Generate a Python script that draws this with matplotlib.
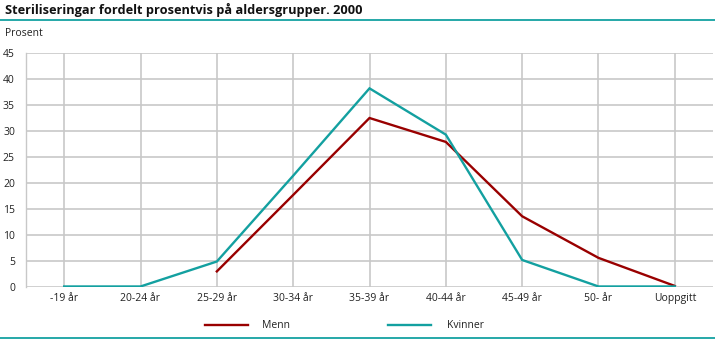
import numpy as np
import matplotlib.pyplot as plt
from matplotlib.lines import Line2D

plt.rcParams['font.family'] = ['Open Sans', 'DejaVu Sans']

# Aldersgrupper og prosentandeler
categories = ['-19 år', '20-24 år', '25-29 år', '30-34 år', '35-39 år',
              '40-44 år', '45-49 år', '50- år', 'Uoppgitt']
menn = [np.nan, np.nan, 3.0, 17.7, 32.5, 27.9, 13.6, 5.6, 0.2]
kvinner = [0.1, 0.1, 4.9, 21.4, 38.2, 29.3, 5.2, 0.1, 0.1]

c_menn = '#990000'
c_kvinner = '#13a0a0'
c_grid = '#c8c8c8'

fig = plt.figure(figsize=(7.15, 3.39), dpi=100)
W, H = 715, 339
ax = fig.add_axes([26 / W, 1 - 287 / H, (713 - 26) / W, (287 - 53) / H])

x = np.arange(len(categories))
ax.plot(x, menn, color=c_menn, lw=1.7, solid_joinstyle='miter')
ax.plot(x, kvinner, color=c_kvinner, lw=1.7, solid_joinstyle='miter')

ax.set_xlim(-0.5, len(categories) - 0.5)
ax.set_ylim(0, 45)
ax.set_yticks(range(0, 46, 5))
ax.set_xticks(x)
ax.set_xticklabels(categories)
ax.tick_params(length=0, labelsize=7.5, colors='#222222', pad=4)
ax.tick_params(axis='y', pad=8)

ax.grid(True, color=c_grid, lw=1.2)
ax.set_axisbelow(True)
for s in ['top', 'right', 'bottom']:
    ax.spines[s].set_visible(False)
ax.spines['left'].set_color(c_grid)
ax.spines['left'].set_linewidth(1.0)

# Tittel og linjer
fig.text(5 / W, 1 - 10 / H, 'Steriliseringar fordelt prosentvis på aldersgrupper. 2000',
         fontsize=9.2, fontweight='bold', va='center', ha='left', color='#111111')
fig.add_artist(Line2D([0, 1], [1 - 20 / H, 1 - 20 / H], color='#009999', lw=1.2))
fig.add_artist(Line2D([0, 1], [1 - 337.5 / H, 1 - 337.5 / H], color='#009999', lw=1.2))
fig.text(5 / W, 1 - 33 / H, 'Prosent', fontsize=7.5, va='center', ha='left', color='#222222')

# Tegnforklaring
ly = 1 - 325 / H
fig.add_artist(Line2D([205 / W, 248 / W], [ly, ly], color=c_menn, lw=1.7))
fig.text(262 / W, ly, 'Menn', fontsize=7.5, va='center', ha='left', color='#222222')
fig.add_artist(Line2D([388 / W, 431 / W], [ly, ly], color=c_kvinner, lw=1.7))
fig.text(447 / W, ly, 'Kvinner', fontsize=7.5, va='center', ha='left', color='#222222')

fig.savefig('out.png', dpi=100)
